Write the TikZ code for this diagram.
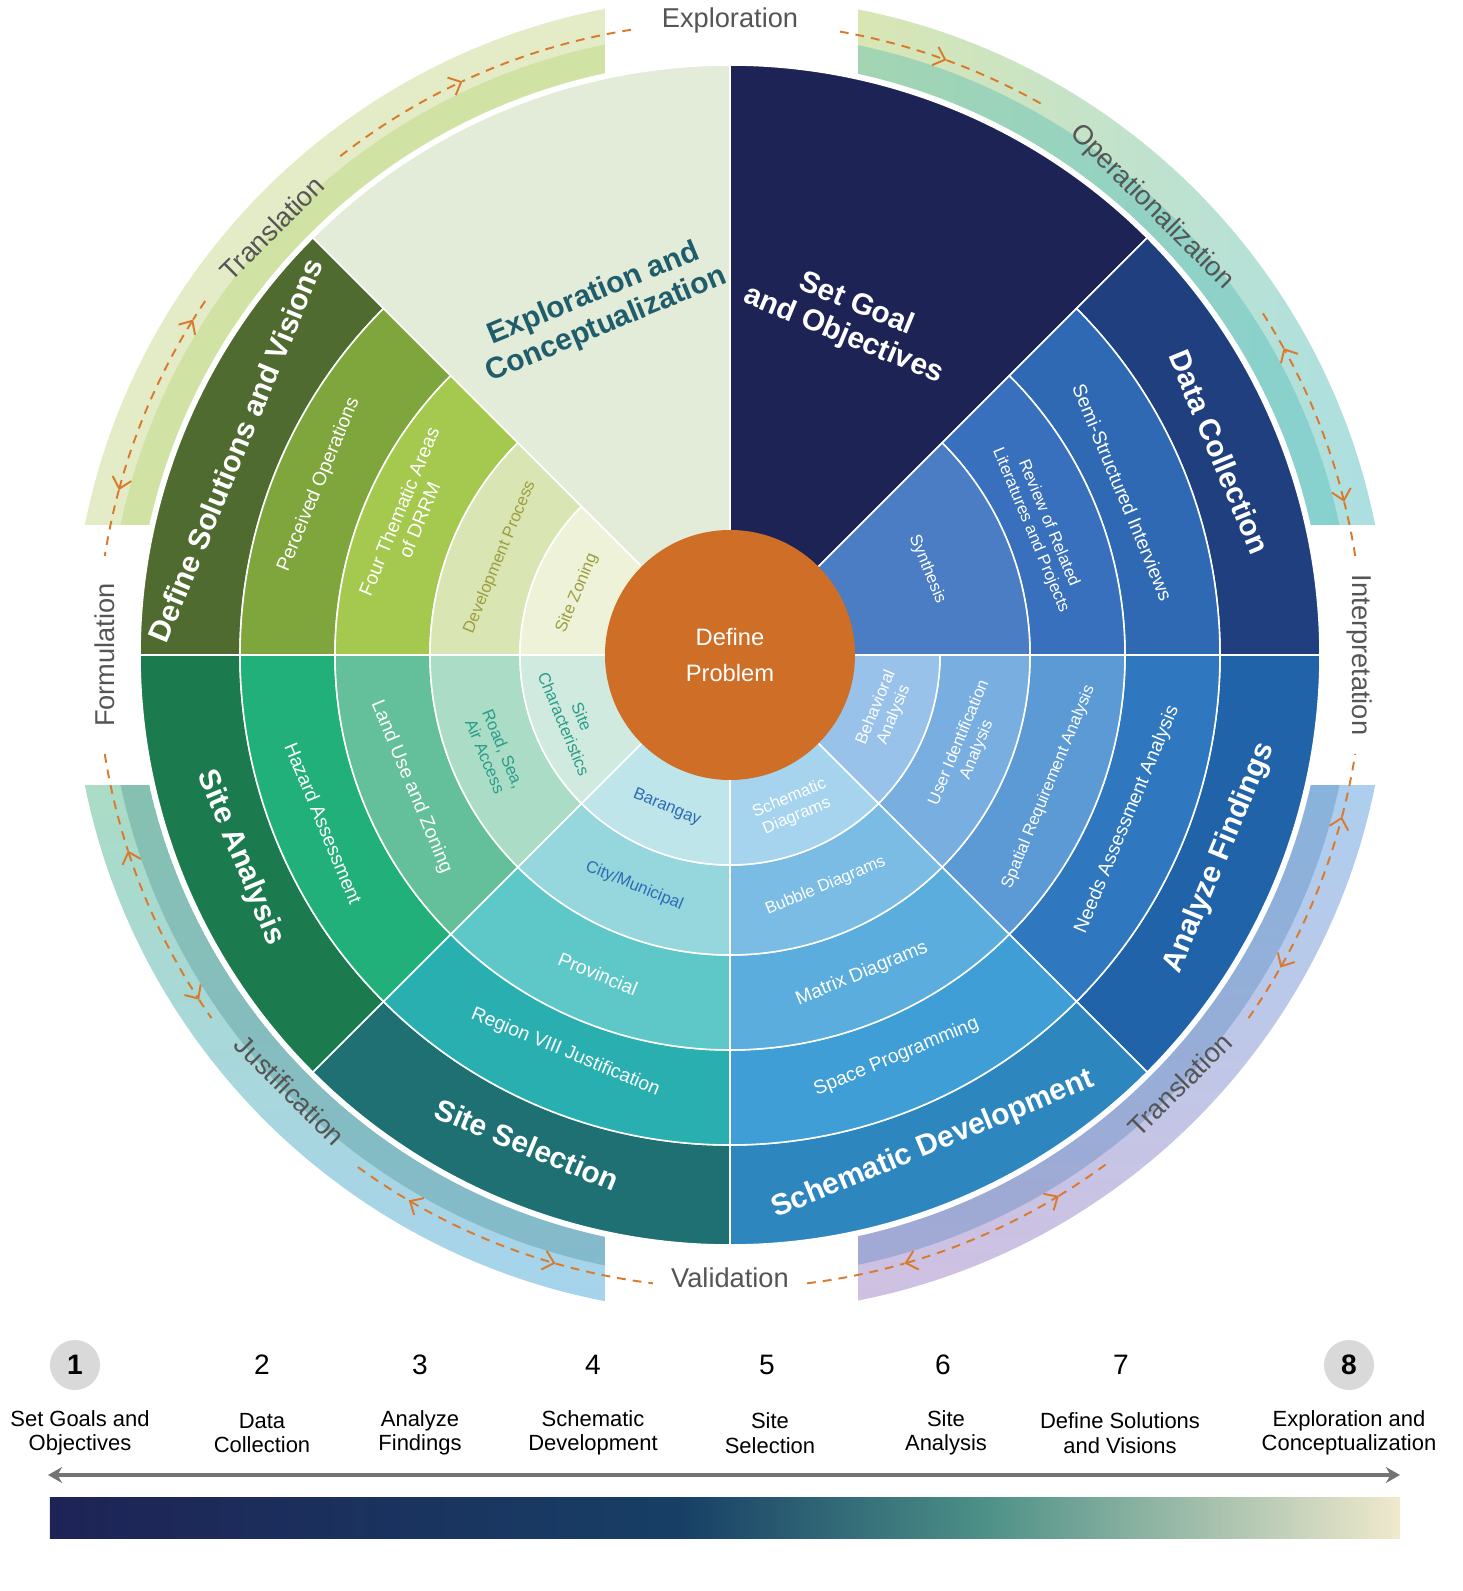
\documentclass[tikz,border=0pt]{standalone}
\usepackage{fontspec}
\setmainfont{Liberation Sans}
\usetikzlibrary{arrows.meta}
\definecolor{explo}{HTML}{E2ECD8}
\definecolor{explotxt}{HTML}{1F5C6C}
\definecolor{goal}{HTML}{1E2356}
\definecolor{barA}{HTML}{173F66}
\definecolor{barB}{HTML}{4B8F86}
\definecolor{barC}{HTML}{F0E9CD}
\definecolor{dcA}{HTML}{1F3F7F}
\definecolor{dcB}{HTML}{2F69B3}
\definecolor{dcC}{HTML}{3970BD}
\definecolor{dcD}{HTML}{4A7DC4}
\definecolor{afA}{HTML}{2163A8}
\definecolor{afB}{HTML}{2F78BF}
\definecolor{afC}{HTML}{5B9AD5}
\definecolor{afD}{HTML}{78AEE0}
\definecolor{afE}{HTML}{98C2EA}
\definecolor{sdA}{HTML}{2E86BF}
\definecolor{sdB}{HTML}{3F9ED6}
\definecolor{sdC}{HTML}{5AADDC}
\definecolor{sdD}{HTML}{7ABCE3}
\definecolor{sdE}{HTML}{A6D3EE}
\definecolor{ssA}{HTML}{1E7073}
\definecolor{ssB}{HTML}{2AAFB0}
\definecolor{ssC}{HTML}{5EC8C9}
\definecolor{ssD}{HTML}{95D7DC}
\definecolor{ssE}{HTML}{BEE6EA}
\definecolor{saA}{HTML}{1B7A4E}
\definecolor{saB}{HTML}{22B07A}
\definecolor{saC}{HTML}{63C09A}
\definecolor{saD}{HTML}{AADCC6}
\definecolor{saE}{HTML}{D0EADF}
\definecolor{dsA}{HTML}{4F6B2F}
\definecolor{dsB}{HTML}{7EA63C}
\definecolor{dsC}{HTML}{A5C94F}
\definecolor{dsD}{HTML}{D9E6B4}
\definecolor{dsE}{HTML}{EEF2D9}
\definecolor{problem}{HTML}{CF6E27}
\definecolor{flow}{HTML}{DA7A2C}
\definecolor{labelgray}{HTML}{555555}
\definecolor{olive}{HTML}{9E9E3E}
\definecolor{tealtxt}{HTML}{2A9D8A}
\definecolor{bluetxt}{HTML}{2F6BB5}
\tikzset{
    seg/.style = {draw=white, line width=0.9pt},
    rtxt/.style = {align=center, inner sep=0pt, text=white, font=\fontsize{11}{12.5}\selectfont},
    stxt/.style = {rtxt, font=\fontsize{9.5}{11}\selectfont},
    btxt/.style = {rtxt, font=\fontsize{17}{19}\selectfont\bfseries},
    lbl/.style = {text=labelgray, inner sep=0pt, font=\fontsize{15.5}{17}\selectfont},
    flow/.style = {draw=flow, line width=1.1pt, dash pattern=on 5pt off 4pt},
    stepnum/.style = {inner sep=0pt, font=\fontsize{16}{18}\selectfont},
    stepbold/.style = {inner sep=0pt, font=\fontsize{16}{18}\selectfont\bfseries},
    stepname/.style = {align=center, inner sep=0pt, font=\fontsize{12.5}{14}\selectfont},
    >={Straight Barb[length=6pt,width=11pt]}
}
% annular sector: start, end, inner, outer, colour
\newcommand{\sect}[5]{\path[seg, fill=#5] (#1:#3) arc[start angle=#1, end angle=#2, radius=#3] -- (#2:#4) arc[start angle=#2, end angle=#1, radius=#4] -- cycle;}
\newcommand{\band}[4]{(#1:#3) arc[start angle=#1, end angle=#2, radius=#3] -- (#2:#4) arc[start angle=#2, end angle=#1, radius=#4] -- cycle}
\newcommand{\farc}[3][]{\draw[flow, #1] (#2:63.3) arc[start angle=#2, end angle=#3, radius=63.3];}

\begin{document}
\begin{tikzpicture}[scale=0.2]
\useasboundingbox (-73,-93.6) rectangle (73.2,65.5);

% outer bands
\begin{scope}
    \clip (-73,13) rectangle (-12.5,66);
    \fill[fill=dsD, opacity=0.75] \band{90}{180}{59.5}{65.8};
    \fill[fill=dsC!70, opacity=0.5] \band{90}{180}{59.5}{62.3};
\end{scope}
\begin{scope}
    \clip (12.8,13) rectangle (73,66);
    \clip \band{0}{90}{59.5}{65.8};
    \shade[left color=dsD, right color=ssD!80] (12.8,13) rectangle (66,66);
    \fill[fill=ssB, opacity=0.3] \band{0}{90}{59.5}{62.3};
\end{scope}
\begin{scope}
    \clip (12.8,-13) rectangle (73,-66);
    \clip \band{-90}{0}{59.5}{65.8};
    \shade[top color=afE!80, bottom color=afE!50!violet!40] (12.8,-13) rectangle (66,-66);
    \fill[fill=afA, opacity=0.25] \band{-90}{0}{59.5}{62.3};
\end{scope}
\begin{scope}
    \clip (-73,-13) rectangle (-12.5,-66);
    \clip \band{-180}{-90}{59.5}{65.8};
    \shade[top color=saD, bottom color=sdE] (-66,-13) rectangle (-12.5,-66);
    \fill[fill=ssA, opacity=0.25] \band{-180}{-90}{59.5}{62.3};
\end{scope}

% wheel
\sect{90}{135}{12}{59}{explo}
\sect{45}{90}{12}{59}{goal}
\sect{0}{45}{49}{59}{dcA}
\sect{0}{45}{39.5}{49}{dcB}
\sect{0}{45}{30}{39.5}{dcC}
\sect{0}{45}{12}{30}{dcD}
\foreach \lo/\hi/\sa/\sb/\sc/\sd/\se in {
    -45/0/afA/afB/afC/afD/afE,
    -90/-45/sdA/sdB/sdC/sdD/sdE,
    -135/-90/ssA/ssB/ssC/ssD/ssE,
    180/225/saA/saB/saC/saD/saE,
    135/180/dsA/dsB/dsC/dsD/dsE}{
    \sect{\lo}{\hi}{49}{59}{\sa}
    \sect{\lo}{\hi}{39.5}{49}{\sb}
    \sect{\lo}{\hi}{30}{39.5}{\sc}
    \sect{\lo}{\hi}{21}{30}{\sd}
    \sect{\lo}{\hi}{12}{21}{\se}
}
\node[circle, fill=problem, minimum size=5cm, inner sep=0pt, text=white, align=center,
    font=\fontsize{13.5}{20}\selectfont] (problem) at (0,0) {Define\\Problem};

% sector texts
\node[btxt, text=explotxt, rotate=22.5] (explo) at (110.6:36.9) {Exploration and\\Conceptualization};
\node[btxt, rotate=-22.5] (goal) at (70.3:35.6) {Set Goal\\and Objectives};

\node[btxt, rotate=-67.5] (dc) at (22.5:53) {Data Collection};
\node[rtxt, rotate=-67.5] (semi) at (22.5:42.5) {Semi-Structured Interviews};
\node[stxt, rotate=-67.5] (review) at (22.5:33.5) {Review of Related\\Literatures and Projects};
\node[stxt, rotate=-67.5] (synth) at (23.5:21.5) {Synthesis};

\node[btxt, rotate=67.5] (af) at (-22.5:53) {Analyze Findings};
\node[rtxt, rotate=67.5] (needs) at (-22.5:43) {Needs Assessment Analysis};
\node[stxt, rotate=67.5] (spatial) at (-22.5:34.5) {Spatial Requirement Analysis};
\node[stxt, rotate=67.5] (user) at (-21:25.5) {User Identification\\Analysis};
\node[stxt, rotate=67.5] (behav) at (-20:16.5) {Behavioral\\Analysis};

\node[btxt, rotate=22.5] (sd) at (-67.5:53) {Schematic Development};
\node[rtxt, rotate=22.5] (space) at (-67.5:43.5) {Space Programming};
\node[rtxt, rotate=22.5] (matrix) at (-67.5:34.5) {Matrix Diagrams};
\node[stxt, rotate=22.5] (bubble) at (-67.5:25) {Bubble Diagrams};
\node[stxt, rotate=22.5] (schem) at (-67.5:16.5) {Schematic\\Diagrams};

\node[btxt, rotate=-22.5] (ss) at (-112.5:53) {Site Selection};
\node[rtxt, rotate=-22.5] (region) at (-112.5:43) {Region VIII Justification};
\node[rtxt, rotate=-22.5] (prov) at (-112.5:34.5) {Provincial};
\node[stxt, text=bluetxt, rotate=-22.5] (city) at (-112.5:25) {City/Municipal};
\node[stxt, text=bluetxt, rotate=-22.5] (brgy) at (-112.5:16.5) {Barangay};

\node[btxt, rotate=-67.5] (sa) at (-157.5:53) {Site Analysis};
\node[rtxt, rotate=-67.5] (hazard) at (-157.5:44) {Hazard Assessment};
\node[rtxt, rotate=-67.5] (landuse) at (-157.5:34.5) {Land Use and Zoning};
\node[stxt, text=tealtxt, rotate=-67.5] (road) at (-157.5:25.5) {Road, Sea,\\Air Access};
\node[stxt, text=tealtxt, rotate=-67.5] (charac) at (-157.5:17) {Site\\Characteristics};

\node[btxt, rotate=67.5] (ds) at (157.5:53.5) {Define Solutions and Visions};
\node[rtxt, rotate=67.5] (perc) at (157.5:44.5) {Perceived Operations};
\node[rtxt, rotate=67.5] (four) at (156.5:35) {Four Thematic Areas\\of DRRM};
\node[stxt, text=olive, rotate=67.5] (dev) at (157:25) {Development Process};
\node[stxt, text=olive, rotate=67.5] (zoning) at (158:16.5) {Site Zoning};

% flow around the wheel
\farc{99}{115}
\farc[->]{128}{115}
\farc[->]{80}{70}
\farc{70}{60}
\foreach \a/\b/\c/\d in {9/14/29/33, -35/-29.6/-14.8/-9, -83/-74/-58.7/-53,
    -126/-120.5/-106/-97, -171/-162/-147/-145, 146/148/164.9/171}{
    \farc{\a}{\b}
    \farc[<->]{\b}{\c}
    \farc{\c}{\d}
}
\node[lbl] (l-explo) at (90:63.5) {Exploration};
\node[lbl, rotate=-45] (l-oper) at (46.7:61.5) {Operationalization};
\node[lbl, rotate=-90] (l-interp) at (0:63) {Interpretation};
\node[lbl, rotate=45] (l-trans1) at (-43.7:62.2) {Translation};
\node[lbl] (l-valid) at (-90:62.3) {Validation};
\node[lbl, rotate=-45] (l-just) at (-135.3:61.9) {Justification};
\node[lbl, rotate=90] (l-form) at (180:62.5) {Formulation};
\node[lbl, rotate=45] (l-trans2) at (137:62.6) {Translation};

% legend
\fill[fill=black!15] (-65.5,-71) circle (2.5);
\fill[fill=black!15] (61.9,-71) circle (2.5);
\node[stepbold] (n1) at (-65.5,-71) {1};
\node[stepnum] (n2) at (-46.8,-71) {2};
\node[stepnum] (n3) at (-31,-71) {3};
\node[stepnum] (n4) at (-13.7,-71) {4};
\node[stepnum] (n5) at (3.7,-71) {5};
\node[stepnum] (n6) at (21.3,-71) {6};
\node[stepnum] (n7) at (39.1,-71) {7};
\node[stepbold] (n8) at (61.9,-71) {8};
\node[stepname] (s1) at (-65,-77.8) {Set Goals and\\Objectives};
\node[stepname] (s2) at (-46.8,-77.8) {Data\\Collection};
\node[stepname] (s3) at (-31,-77.8) {Analyze\\Findings};
\node[stepname] (s4) at (-13.7,-77.8) {Schematic\\Development};
\node[stepname] (s5) at (4,-77.8) {Site\\Selection};
\node[stepname] (s6) at (21.6,-77.8) {Site\\Analysis};
\node[stepname] (s7) at (39,-77.8) {Define Solutions\\and Visions};
\node[stepname] (s8) at (61.9,-77.8) {Exploration and\\Conceptualization};
\coordinate (ax-l) at (-68.2,-82);
\coordinate (ax-r) at (67,-82);
\draw[{Stealth[length=8pt,width=9pt]}-{Stealth[length=8pt,width=9pt]}, black!55, line width=2.6pt] (ax-l) -- (ax-r);
\shade[left color=goal, right color=barA] (-68,-84.2) rectangle (-5,-88.3);
\shade[left color=barA, right color=barB] (-5.05,-84.2) rectangle (25,-88.3);
\shade[left color=barB, right color=barC] (24.95,-84.2) rectangle (67,-88.3);
\end{tikzpicture}
\end{document}
